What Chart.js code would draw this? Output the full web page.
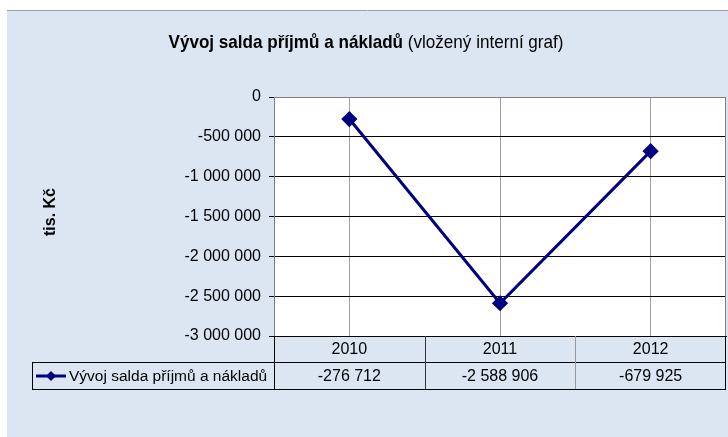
<!DOCTYPE html>
<html>
<head>
<meta charset="utf-8">
<script src="https://cdn.jsdelivr.net/npm/chart.js@4"></script>
<style>
  html, body { margin: 0; padding: 0; background: #fff; }
  canvas { display: block; }
</style>
</head>
<body>
<canvas id="saldoChart" width="728" height="437"></canvas>
<script>
const years = ["2010", "2011", "2012"];
const saldo = [-276712, -2588906, -679925];
const yTicks = { min: -3000000, max: 0, step: 500000 };
const seriesName = "Vývoj salda příjmů a nákladů";
const titleBold = "Vývoj salda příjmů a nákladů ";
const titleNormal = "(vložený interní graf)";
const yUnit = "tis. Kč";

const BG = "#dce6f2";
const NAVY = "#000080";
const FONT = "'Liberation Sans', Arial, sans-serif";

function fmt(v) {
  return v.toString().replace(/\B(?=(\d{3})+(?!\d))/g, " ");
}

// background, title, axis label and the data table underneath
const decor = {
  id: "decor",
  beforeDraw(chart) {
    const { ctx, chartArea: a } = chart;
    ctx.save();
    ctx.fillStyle = "#fff";
    ctx.fillRect(0, 0, chart.width, chart.height);
    ctx.fillStyle = BG;
    ctx.fillRect(7, 11, chart.width - 7, chart.height - 11);
    ctx.strokeStyle = "#a0a0a0";
    ctx.beginPath();
    ctx.moveTo(7, 10.5);
    ctx.lineTo(chart.width, 10.5);
    ctx.stroke();
    ctx.fillStyle = "#fff";
    ctx.fillRect(a.left, a.top, a.right - a.left, a.bottom - a.top);

    // title, a bit condensed like the original
    ctx.fillStyle = "#000";
    ctx.textBaseline = "middle";
    ctx.font = "bold 19px " + FONT;
    const wb = ctx.measureText(titleBold).width;
    ctx.font = "19px " + FONT;
    const wn = ctx.measureText(titleNormal).width;
    const sx = 395 / (wb + wn);
    ctx.save();
    ctx.translate(366 - 395 / 2, 43);
    ctx.scale(sx, 1);
    ctx.textAlign = "left";
    ctx.font = "bold 19px " + FONT;
    ctx.fillText(titleBold, 0, 0);
    ctx.font = "19px " + FONT;
    ctx.fillText(titleNormal, wb, 0);
    ctx.restore();

    // y unit
    ctx.save();
    ctx.translate(51, 212);
    ctx.rotate(-Math.PI / 2);
    ctx.textAlign = "center";
    ctx.font = "bold 16px " + FONT;
    ctx.fillText(yUnit, 0, 0);
    ctx.restore();
    ctx.restore();
  },
  afterDraw(chart) {
    const { ctx, chartArea: a, scales } = chart;
    const xs = scales.x;
    const cw = (a.right - a.left) / years.length;
    const r1 = a.bottom, r2 = a.bottom + 26, r3 = a.bottom + 53;
    ctx.save();

    // plot border
    ctx.strokeStyle = "#808080";
    ctx.lineWidth = 1;
    ctx.strokeRect(a.left + 0.5, a.top + 0.5, a.right - a.left - 1, a.bottom - a.top);

    ctx.strokeStyle = "#000";
    ctx.beginPath();
    ctx.moveTo(a.left, r1 + 0.5); ctx.lineTo(a.right, r1 + 0.5);
    ctx.moveTo(32, r2 + 0.5); ctx.lineTo(a.right, r2 + 0.5);
    ctx.moveTo(32, r3 + 0.5); ctx.lineTo(a.right, r3 + 0.5);
    ctx.moveTo(32.5, r2); ctx.lineTo(32.5, r3);
    ctx.moveTo(a.left + 0.5, r1); ctx.lineTo(a.left + 0.5, r3);
    ctx.moveTo(a.right - 0.5, r1); ctx.lineTo(a.right - 0.5, r3);
    ctx.stroke();
    for (let i = 1; i < years.length; i++) {
      const bx = Math.round(a.left + cw * i) + 0.5;
      ctx.strokeStyle = i === 1 ? "#333" : "#999";
      ctx.beginPath();
      ctx.moveTo(bx, r1); ctx.lineTo(bx, r3);
      ctx.stroke();
    }

    ctx.fillStyle = "#000";
    ctx.font = "16px " + FONT;
    ctx.textBaseline = "middle";
    ctx.textAlign = "center";
    years.forEach((y, i) => {
      const cx = xs.getPixelForValue(i);
      ctx.fillText(y, cx, (r1 + r2) / 2 + 1);
      ctx.fillText(fmt(saldo[i]), cx, (r2 + r3) / 2 + 1);
    });

    // legend key in the table
    const ly = (r2 + r3) / 2 + 0.5;
    ctx.strokeStyle = NAVY;
    ctx.lineWidth = 3;
    ctx.beginPath();
    ctx.moveTo(36, ly); ctx.lineTo(66, ly);
    ctx.stroke();
    ctx.fillStyle = NAVY;
    ctx.beginPath();
    ctx.moveTo(51, ly - 5); ctx.lineTo(56, ly); ctx.lineTo(51, ly + 5); ctx.lineTo(46, ly);
    ctx.closePath();
    ctx.fill();
    ctx.fillStyle = "#000";
    ctx.textAlign = "left";
    ctx.font = "15.5px " + FONT;
    ctx.fillText(seriesName, 69, ly + 0.5);
    ctx.restore();
  }
};

new Chart(document.getElementById("saldoChart"), {
  type: "line",
  data: {
    labels: years,
    datasets: [{
      label: seriesName,
      data: saldo,
      borderColor: NAVY,
      backgroundColor: NAVY,
      borderWidth: 3,
      pointStyle: "rectRot",
      pointRadius: 6,
      tension: 0,
      fill: false
    }]
  },
  options: {
    responsive: false,
    animation: false,
    devicePixelRatio: 1,
    layout: { autoPadding: false, padding: { top: 97, left: 0, right: 2, bottom: 0 } },
    plugins: {
      legend: { display: false },
      title: { display: false },
      tooltip: { enabled: false }
    },
    scales: {
      x: {
        offset: true,
        grid: { offset: false, color: "#a0a0a0", drawTicks: false },
        ticks: { display: false },
        border: { color: "#000" },
        afterFit: s => { s.height = 101; }
      },
      y: {
        min: yTicks.min,
        max: yTicks.max,
        ticks: {
          stepSize: yTicks.step,
          color: "#000",
          padding: 8,
          font: { family: FONT, size: 16 },
          callback: v => fmt(v)
        },
        grid: { color: "#000", tickColor: "#000", tickLength: 5 },
        border: { color: "#808080" },
        afterFit: s => { s.width = 274; }
      }
    }
  },
  plugins: [decor]
});
</script>
</body>
</html>
